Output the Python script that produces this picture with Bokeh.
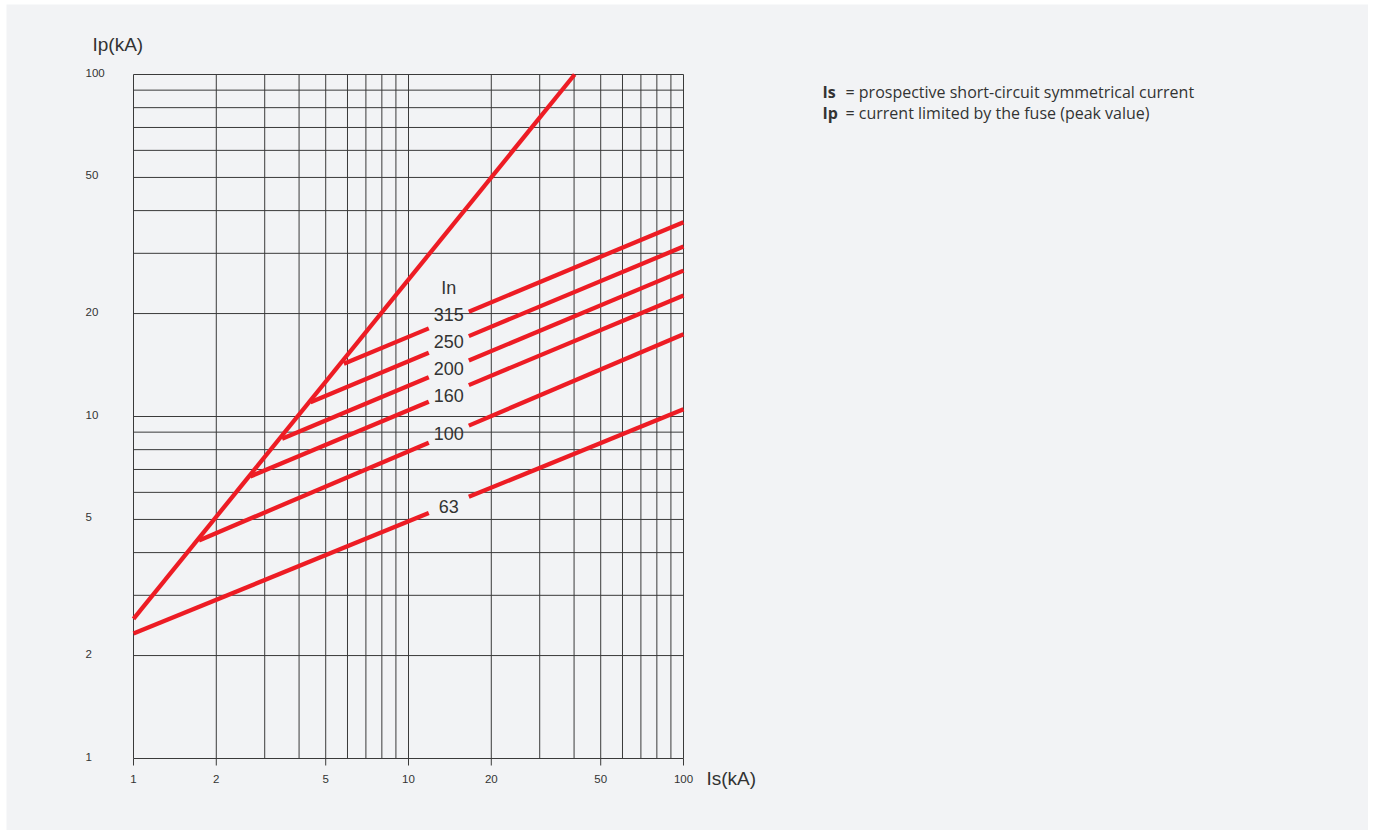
import math
from bokeh.plotting import figure
from bokeh.models import Range1d
from bokeh.core.properties import value
from bokeh.embed import file_html
from bokeh.resources import INLINE

# ---- data ----
axis_lim = [1, 100]
tick_vals = [1, 2, 5, 10, 20, 50, 100]
tick_labels = ["1", "2", "5", "10", "20", "50", "100"]
grid_vals = [1, 2, 3, 4, 5, 6, 7, 8, 9, 10, 20, 30, 40, 50, 60, 70, 80, 90, 100]

# limiting line (peak of prospective current)
diag_is = [1.0, 40.2]
diag_ip = [2.56, 100.0]

# fuse curves
ratings = ["63", "100", "160", "200", "250", "315"]
knee_is = [1.0, 1.73, 2.66, 3.47, 4.40, 5.82]
knee_ip = [2.32, 4.34, 6.68, 8.61, 11.01, 14.26]
end_is = [100.0, 100.0, 100.0, 100.0, 100.0, 100.0]
end_ip = [10.5, 17.4, 22.6, 26.7, 31.4, 37.0]
label_ip = [5.45, 8.92, 11.52, 13.82, 16.6, 19.88]
label_is = 14.0
in_label_ip = 23.7
gap_is = (11.85, 16.57)  # curves are interrupted around the labels

notes_bold = ["Is", "Ip"]
notes_text = ["= prospective short-circuit symmetrical current",
              "= current limited by the fuse (peak value)"]

# ---- layout (page pixels) ----
L, R, T, B = 133, 683, 74, 758      # box 1..100 x 1..100
OX, OY = 6, 4                      # canvas origin on the page
W, H = 1362, 826
DX = (R - L) / 2.0
DY = (B - T) / 2.0


def px2x(px):
    return 10 ** ((px - L) / DX)


def px2y(py):
    return 10 ** ((B - py) / DY)


BG = "#f2f3f5"
RED = "#ed1c24"
GRID = "#3a3a3a"
TXT = "#333333"
AX_FONT = value("Liberation Sans")


def ip_at(i, x):
    lx0, lx1 = math.log10(knee_is[i]), math.log10(end_is[i])
    ly0, ly1 = math.log10(knee_ip[i]), math.log10(end_ip[i])
    t = (math.log10(x) - lx0) / (lx1 - lx0)
    return 10 ** (ly0 + t * (ly1 - ly0))


p = figure(
    x_axis_type="log", y_axis_type="log",
    x_axis_location=None, y_axis_location=None,
    x_range=Range1d(px2x(OX), px2x(OX + W)),
    y_range=Range1d(px2y(OY + H), px2y(OY)),
    width=W, height=H, min_border=0, title=None,
    output_backend="svg", toolbar_location=None,
    background_fill_color=BG, border_fill_color=BG,
)
p.outline_line_color = None
p.grid.visible = False
p.margin = (OY, 0, 0, OX)

lo, hi = axis_lim
n = len(grid_vals)
# grid (its outer lines form the frame)
p.segment(x0=grid_vals, y0=[lo] * n, x1=grid_vals, y1=[hi] * n,
          line_color=GRID, line_width=1)
p.segment(x0=[lo] * n, y0=grid_vals, x1=[hi] * n, y1=grid_vals,
          line_color=GRID, line_width=1)

# x ticks and labels
m = len(tick_vals)
p.segment(x0=tick_vals, y0=[lo] * m, x1=tick_vals, y1=[px2y(B + 7)] * m,
          line_color=GRID, line_width=1)
p.text(x=tick_vals, y=[px2y(B + 20)] * m, text=tick_labels,
       text_align="center", text_baseline="middle", text_font=AX_FONT,
       text_font_size="11.5px", text_color=TXT)
# y labels (left aligned)
p.text(x=[px2x(85)] * m, y=tick_vals, text=tick_labels, y_offset=-2,
       text_align="left", text_baseline="middle", text_font=AX_FONT,
       text_font_size="11.5px", text_color=TXT)

# axis titles
p.text(x=[px2x(92)], y=[px2y(43.5)], text=["Ip(kA)"], text_align="left",
       text_baseline="middle", text_font=AX_FONT, text_font_size="19px", text_color=TXT)
p.text(x=[px2x(706)], y=[px2y(777.5)], text=["Is(kA)"], text_align="left",
       text_baseline="middle", text_font=AX_FONT, text_font_size="19px", text_color=TXT)

# red curves
p.line(diag_is, diag_ip, line_color=RED, line_width=4.3)
xs, ys = [], []
for i in range(len(ratings)):
    xs.append([knee_is[i], gap_is[0]])
    ys.append([knee_ip[i], ip_at(i, gap_is[0])])
    xs.append([gap_is[1], end_is[i]])
    ys.append([ip_at(i, gap_is[1]), end_ip[i]])
p.multi_line(xs, ys, line_color=RED, line_width=4.3)

# rating labels
p.text(x=[label_is] * len(ratings), y=label_ip, text=ratings,
       text_align="center", text_baseline="middle",
       text_font=AX_FONT, text_font_size="18px", text_color=TXT)
p.text(x=[label_is], y=[in_label_ip], text=["In"],
       text_align="center", text_baseline="middle",
       text_font=AX_FONT, text_font_size="18px", text_color=TXT)

# notes on the right
note_mid = [px2y(91), px2y(112)]
p.text(x=[px2x(822)] * 2, y=note_mid, text=notes_bold, text_align="left",
       text_baseline="middle", text_font=value("Open Sans"), text_font_style="bold",
       text_font_size="16px", text_color=TXT)
p.text(x=[px2x(845)] * 2, y=note_mid, text=notes_text, text_align="left",
       text_baseline="middle", text_font=value("Open Sans"),
       text_font_size="16px", text_color=TXT)

open("out.html", "w").write(file_html(p, INLINE))
